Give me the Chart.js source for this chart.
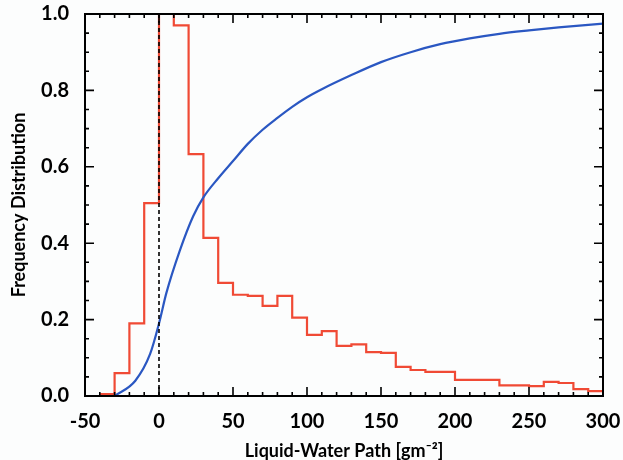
<!DOCTYPE html>
<html>
<head>
<meta charset="utf-8">
<script src="https://cdn.jsdelivr.net/npm/chart.js@4.4.1/dist/chart.umd.min.js"></script>
<style>
  html, body { margin: 0; padding: 0; background: #fcfdfd; }
  #wrap { width: 623px; height: 460px; }
</style>
</head>
<body>
<div id="wrap"><canvas id="lwp"></canvas></div>
<script>
// Histogram bins (left edges) and normalised frequency
const binEdges = [-40, -30, -20, -10, 0, 10, 20, 30, 40, 50, 60, 70, 80, 90, 100, 110, 120, 130, 140, 150,
                  160, 170, 180, 190, 200, 210, 220, 230, 240, 250, 260, 270, 280, 290, 300];
const binFreq = [0.005, 0.06, 0.19, 0.505, 1.2, 0.97, 0.633, 0.414, 0.296, 0.265, 0.262, 0.236, 0.262, 0.205, 0.16, 0.17,
                 0.131, 0.135, 0.115, 0.113, 0.076, 0.068, 0.063, 0.063, 0.042, 0.042, 0.042, 0.028, 0.028, 0.026,
                 0.037, 0.034, 0.018, 0.013];

// Cumulative distribution
const cumX = [-30, -16, -6, 0, 5, 14, 23, 30, 40, 50, 60, 70, 80, 90, 100, 110, 130, 150, 170, 190, 210,
              230, 250, 270, 300];
const cumY = [0.0, 0.04, 0.11, 0.19, 0.27, 0.38, 0.47, 0.52, 0.57, 0.615, 0.66, 0.697, 0.728, 0.757, 0.782,
              0.803, 0.84, 0.874, 0.9, 0.921, 0.936, 0.948, 0.957, 0.965, 0.975];

const xTicks = [-50, 0, 50, 100, 150, 200, 250, 300];
const yTicks = [0.0, 0.2, 0.4, 0.6, 0.8, 1.0];

const histPoints = binEdges.map((x, i) => ({ x: x, y: i < binFreq.length ? binFreq[i] : binFreq[binFreq.length - 1] }));
const cumPoints = cumX.map((x, i) => ({ x: x, y: cumY[i] }));

const FONT = 'Lato, "Open Sans", sans-serif';

// inward ticks on all four sides plus the frame
const frameTicks = {
  id: 'frameTicks',
  afterDatasetsDraw(chart) {
    const { ctx, chartArea: a, scales: { x, y } } = chart;
    ctx.save();
    ctx.strokeStyle = '#000';
    ctx.lineWidth = 1.6;
    for (let v = -50; v <= 300; v += 10) {
      const px = x.getPixelForValue(v);
      const len = v % 50 === 0 ? 9 : 4;
      ctx.beginPath();
      ctx.moveTo(px, a.bottom); ctx.lineTo(px, a.bottom - len);
      ctx.moveTo(px, a.top); ctx.lineTo(px, a.top + len);
      ctx.stroke();
    }
    for (let k = 0; k <= 20; k++) {
      const py = y.getPixelForValue(k * 0.05);
      const len = k % 4 === 0 ? 9 : 4;
      ctx.beginPath();
      ctx.moveTo(a.left, py); ctx.lineTo(a.left + len, py);
      ctx.moveTo(a.right, py); ctx.lineTo(a.right - len, py);
      ctx.stroke();
    }
    ctx.lineWidth = 2;
    ctx.strokeRect(a.left, a.top, a.right - a.left, a.bottom - a.top);
    ctx.restore();
  }
};

new Chart(document.getElementById('lwp'), {
  type: 'line',
  data: {
    datasets: [
      {
        label: 'histogram',
        data: histPoints,
        stepped: true,
        borderColor: '#f04a35',
        borderWidth: 2.2,
        pointRadius: 0,
        fill: false,
        order: 2
      },
      {
        label: 'cumulative',
        data: cumPoints,
        borderColor: '#2a57c2',
        borderWidth: 2.2,
        pointRadius: 0,
        cubicInterpolationMode: 'monotone',
        fill: false,
        order: 1
      },
      {
        label: 'zero',
        data: [{ x: 0, y: 0 }, { x: 0, y: 1 }],
        borderColor: '#000',
        borderWidth: 1.6,
        borderDash: [4, 3],
        pointRadius: 0,
        fill: false,
        order: 0
      }
    ]
  },
  options: {
    responsive: true,
    maintainAspectRatio: false,
    animation: false,
    layout: { padding: { top: 14, right: 20, left: 6, bottom: 0 } },
    plugins: { legend: { display: false }, tooltip: { enabled: false } },
    scales: {
      x: {
        type: 'linear',
        min: -50,
        max: 300,
        afterBuildTicks: (s) => { s.ticks = xTicks.map(v => ({ value: v })); },
        afterFit: (s) => { s.height = 64; s.paddingRight = 0; s.paddingLeft = 0; },
        grid: { display: false },
        border: { display: false },
        ticks: { color: '#000', padding: 6, maxRotation: 0, font: { family: FONT, size: 20, weight: 'bold' } },
        title: {
          display: true,
          text: 'Liquid-Water Path [gm\u207B\u00B2]',
          color: '#000',
          padding: { top: 4, bottom: -2 },
          font: { family: FONT, size: 18, weight: 'bold' }
        }
      },
      y: {
        min: 0,
        max: 1,
        afterBuildTicks: (s) => { s.ticks = yTicks.map(v => ({ value: v })); },
        afterFit: (s) => { s.width = 79; s.paddingTop = 0; s.paddingBottom = 0; },
        grid: { display: false },
        border: { display: false },
        ticks: { color: '#000', padding: 8, font: { family: FONT, size: 20, weight: 'bold' },
                 callback: (v) => v.toFixed(1) },
        title: {
          display: true,
          text: 'Frequency Distribution',
          color: '#000',
          padding: { top: 2, bottom: 4 },
          font: { family: FONT, size: 18, weight: 'bold' }
        }
      }
    }
  },
  plugins: [frameTicks]
});
</script>
</body>
</html>
